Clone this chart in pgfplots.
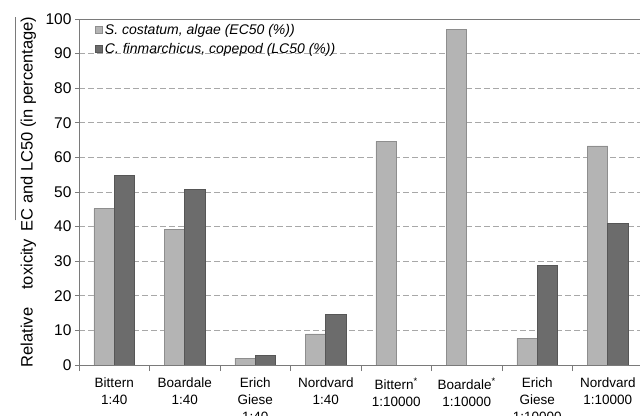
\documentclass[border=0pt]{standalone}
\usepackage{pgfplots}
\pgfplotsset{compat=1.18}
\usepackage{fontspec}
\setmainfont{Liberation Sans}
\definecolor{algae}{HTML}{B4B4B4}
\definecolor{algaeedge}{HTML}{8E8E8E}
\definecolor{cope}{HTML}{6C6C6C}
\definecolor{copeedge}{HTML}{565656}
\definecolor{axgray}{HTML}{7A7A7A}
\definecolor{gridgray}{HTML}{A8A8A8}
\newlength\ovlen
\newcommand\ovl[1]{\settowidth\ovlen{#1}\makebox[0pt][l]{\raisebox{1.0em}{\color{axgray}\rule{\ovlen}{0.6pt}}}#1}
\begin{document}
\begin{tikzpicture}
\begin{axis}[
  at={(0,0)}, anchor=south west,
  scale only axis,
  width=561bp, height=346bp,
  xmin=-0.5, xmax=7.457,
  ymin=0, ymax=100,
  ytick={0,10,...,100},
  xtick={0,...,7},
  xticklabels={{Bittern\\1:40},{Boardale\\1:40},{Erich\\Giese\\1:40},{Nordvard\\1:40},{Bittern\textsuperscript{*}\\1:10000},{Boardale\textsuperscript{*}\\1:10000},{Erich\\Giese\\1:10000},{Nordvard\\1:10000}},
  major x tick style={draw=none},
  minor xtick={-0.5,0.5,...,6.5},
  minor tick length=6bp,
  major tick length=4bp,
  tick align=outside,
  axis x line*=bottom,
  axis y line*=left,
  axis line style={axgray, line width=0.8pt},
  tick style={axgray, line width=0.8pt},
  minor x tick style={axgray, line width=0.8pt},
  ymajorgrids,
  major grid style={gridgray, line width=0.8pt, dash pattern=on 6bp off 3bp},
  /pgf/number format/assume math mode=true,
  yticklabel style={font=\fontsize{15.5bp}{18bp}\selectfont, black},
  xticklabel style={font=\fontsize{13.5bp}{17bp}\selectfont, align=center, anchor=north, yshift=-5bp},
  ylabel={Relative\hspace{1.1em}toxicity \hspace{0.2em}E\ovl{C and LC50 (in percentage)}},
  ylabel style={font=\fontsize{16.5bp}{19bp}\selectfont, at={(axis description cs:-0.095,0.5)}, anchor=center},
  ybar=0pt,
  bar width=0.288,
  legend style={at={(0.027,0.995)}, anchor=north west, draw=none, fill=none,
    font=\fontsize{14bp}{16bp}\selectfont\itshape, row sep=3.5bp, inner sep=1bp,
    legend cell align=left},
  legend image code/.code={\draw[#1] (0bp,-3.5bp) rectangle (7bp,3.5bp);},
]
\addplot[fill=algae, draw=algaeedge, line width=0.6pt] coordinates {
 (0,45.2) (1,39.3) (2,2.0) (3,9.0) (4,64.6) (5,96.9) (6,7.7) (7,63.3)};
\addplot[fill=cope, draw=copeedge, line width=0.6pt] coordinates {
 (0,54.7) (1,50.7) (2,2.8) (3,14.7) (6,28.8) (7,40.9)};
\legend{{S. costatum, algae (EC50 (\%))}, {C. finmarchicus, copepod (LC50 (\%))}}
\draw[axgray, line width=0.8pt] (rel axis cs:0,1) -- (rel axis cs:1,1);
\end{axis}
\pgfresetboundingbox
\useasboundingbox (-79bp,-51bp) rectangle (561bp,365bp);
\end{tikzpicture}
\end{document}
